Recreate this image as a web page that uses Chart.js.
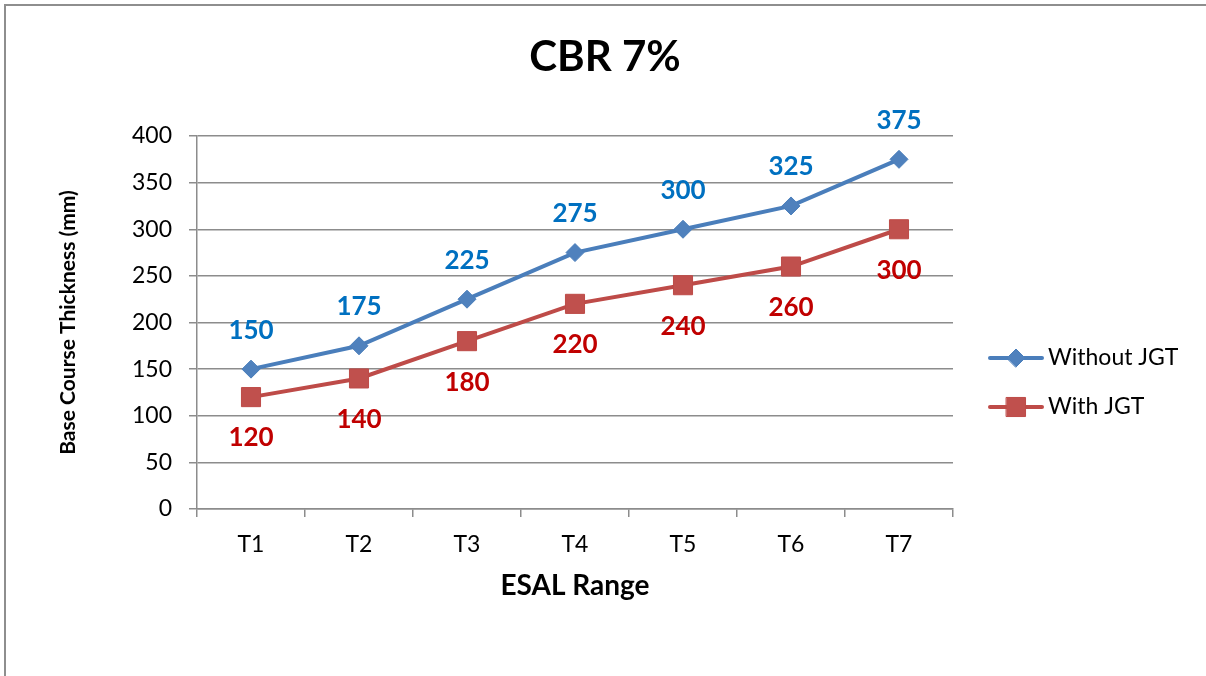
<!DOCTYPE html>
<html>
<head>
<meta charset="utf-8">
<script src="https://cdn.jsdelivr.net/npm/chart.js@4.4.1/dist/chart.umd.min.js"></script>
<style>
  html, body { margin: 0; padding: 0; background: #fff; }
  #wrap { position: relative; width: 1206px; height: 676px; overflow: hidden; }
  #frame { position: absolute; left: 4px; top: 4px; width: 1300px; height: 800px;
           border-left: 2px solid #8e8e8e; border-top: 2px solid #8e8e8e; }
  #chart { position: absolute; left: 0; top: 0; }
</style>
</head>
<body>
<div id="wrap">
  <div id="frame"></div>
  <canvas id="chart" width="1206" height="676"></canvas>
</div>
<script>
const categories = ['T1', 'T2', 'T3', 'T4', 'T5', 'T6', 'T7']
const withoutJgt = [150, 175, 225, 275, 300, 325, 375]
const withJgt = [120, 140, 180, 220, 240, 260, 300]
const yTicks = [0, 50, 100, 150, 200, 250, 300, 350, 400]
const chartTitle = 'CBR 7%'

const fontFamily = 'Lato, "Open Sans", sans-serif'
const gridColor = '#8c8c8c'

// title centred on the whole picture, not on the plot
const pageTitle = {
  id: 'pageTitle',
  afterDraw(chart) {
    const ctx = chart.ctx
    ctx.save()
    ctx.font = `bold 42px ${fontFamily}`
    ctx.fillStyle = '#000'
    ctx.textAlign = 'center'
    ctx.textBaseline = 'middle'
    ctx.fillText(chartTitle, 605, 57)
    ctx.restore()
  }
}

// values written above (blue) or below (red) each point
const valueLabels = {
  id: 'valueLabels',
  afterDatasetsDraw(chart) {
    const ctx = chart.ctx
    ctx.save()
    ctx.font = `bold 26px ${fontFamily}`
    ctx.textAlign = 'center'
    ctx.textBaseline = 'middle'
    chart.data.datasets.forEach((ds, i) => {
      const meta = chart.getDatasetMeta(i)
      meta.data.forEach((pt, j) => {
        ctx.fillStyle = ds.labelColor
        ctx.fillText(String(ds.data[j]), pt.x, pt.y + ds.labelOffset)
      })
    })
    ctx.restore()
  }
}

// excel style legend: line with marker in the middle
const sideLegend = {
  id: 'sideLegend',
  afterDraw(chart) {
    const ctx = chart.ctx
    const x0 = 990
    const rows = [358, 407]
    ctx.save()
    chart.data.datasets.forEach((ds, i) => {
      const y = rows[i]
      ctx.strokeStyle = ds.borderColor
      ctx.lineWidth = 4
      ctx.lineCap = 'round'
      ctx.beginPath()
      ctx.moveTo(x0, y)
      ctx.lineTo(x0 + 52, y)
      ctx.stroke()
      ctx.fillStyle = ds.pointBackgroundColor
      ctx.strokeStyle = ds.pointBorderColor
      ctx.lineWidth = 1
      Chart.helpers.drawPoint(ctx, {
        pointStyle: ds.pointStyle,
        radius: ds.pointRadius,
        borderWidth: 1
      }, x0 + 26, y)
      ctx.fillStyle = '#000'
      ctx.font = `23px ${fontFamily}`
      ctx.textAlign = 'left'
      ctx.textBaseline = 'middle'
      ctx.fillText(ds.label, x0 + 58, y)
    })
    ctx.restore()
  }
}

const ctx = document.getElementById('chart')

const chart = new Chart(ctx, {
  type: 'line',
  data: {
    labels: categories,
    datasets: [{
      label: 'Without JGT',
      data: withoutJgt,
      borderColor: '#4A7EBB',
      borderWidth: 4,
      pointStyle: 'rectRot',
      pointRadius: 9,
      pointBackgroundColor: '#4F81BD',
      pointBorderColor: '#4A7EBB',
      pointBorderWidth: 1,
      labelColor: '#0070C0',
      labelOffset: -39,
      tension: 0
    }, {
      label: 'With JGT',
      data: withJgt,
      borderColor: '#BE4B48',
      borderWidth: 4,
      pointStyle: 'rect',
      pointRadius: 13.5,
      pointBackgroundColor: '#C0504D',
      pointBorderColor: '#BE4B48',
      pointBorderWidth: 1,
      labelColor: '#C00000',
      labelOffset: 41,
      tension: 0
    }]
  },
  options: {
    responsive: false,
    animation: false,
    layout: {
      padding: { left: 40, right: 253, top: 136, bottom: 73.4 }
    },
    plugins: {
      legend: { display: false },
      tooltip: { enabled: false },
      title: { display: false }
    },
    scales: {
      x: {
        offset: true,
        afterFit: (scale) => { scale.height = 93.6 },
        grid: {
          offset: true,
          drawOnChartArea: false,
          drawTicks: true,
          tickLength: 8,
          color: gridColor,
          lineWidth: 1.5
        },
        border: { display: true, color: gridColor, width: 1.5 },
        ticks: {
          color: '#000',
          padding: 14,
          font: { family: fontFamily, size: 23 }
        },
        title: {
          display: true,
          text: 'ESAL Range',
          color: '#000',
          font: { family: fontFamily, size: 28, weight: 'bold', lineHeight: 1.2 },
          padding: { top: 10, bottom: 0 }
        }
      },
      y: {
        min: 0,
        max: 400,
        afterFit: (scale) => { scale.width = 157 },
        afterBuildTicks: (scale) => { scale.ticks = yTicks.map(v => ({ value: v })) },
        grid: {
          color: gridColor,
          lineWidth: 1.5,
          tickLength: 8
        },
        border: { display: true, color: gridColor, width: 1.5 },
        ticks: {
          color: '#000',
          padding: 17,
          font: { family: fontFamily, size: 23 }
        },
        title: {
          display: true,
          text: 'Base Course Thickness (mm)',
          color: '#000',
          font: { family: fontFamily, size: 21, weight: 'bold', lineHeight: 1.2 },
          padding: { top: 15.4, bottom: 0 }
        }
      }
    }
  },
  plugins: [valueLabels, sideLegend, pageTitle]
});
</script>
</body>
</html>
